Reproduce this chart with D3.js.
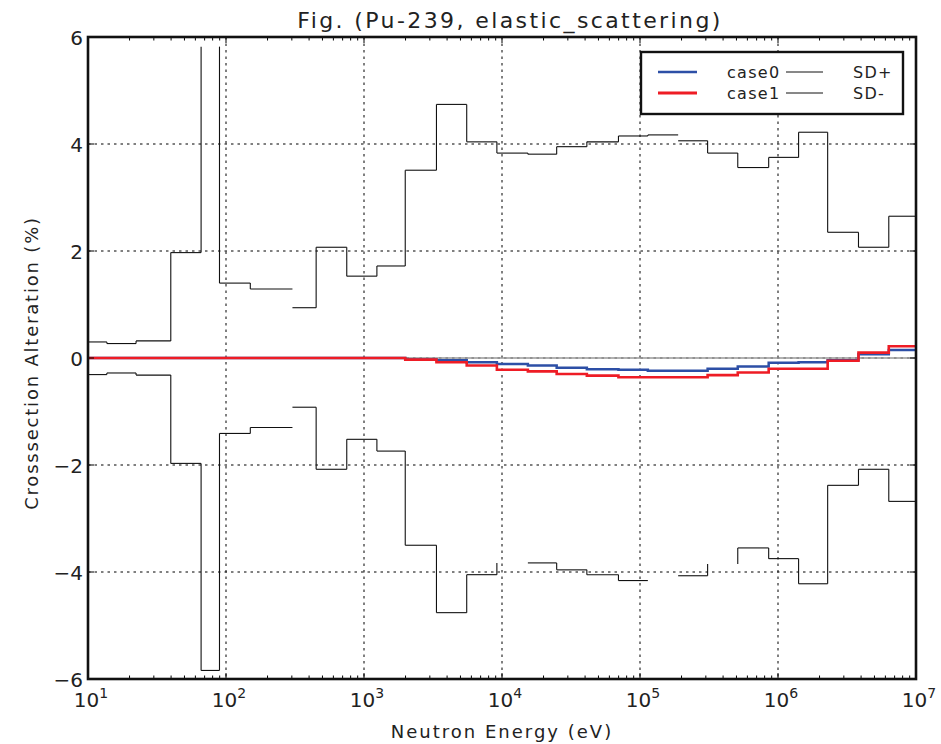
<!DOCTYPE html>
<html>
    <head>
        <meta charset="utf-8">
        <title>Pu-239 elastic scattering</title>
        <script type="text/javascript" src="https://cdn.jsdelivr.net/npm/d3@7"></script>
        <style type="text/css">
            body {
                margin: 0;
                background: #fff;
            }
            text {
                font-family: "DejaVu Sans", sans-serif;
                fill: #222;
            }
        </style>
    </head>
    <body>
        <script type="text/javascript">
            // Group boundaries (eV), 28 groups
            var edges = [10, 13.7, 22.3, 39.8, 66, 89.7, 150, 303, 450, 750, 1240, 1990,
                         3350, 5550, 9180, 15400, 24900, 41200, 69800, 114000, 189000,
                         309000, 511000, 856000, 1.41e6, 2.29e6, 3.83e6, 6.35e6, 1e7];

            // Crosssection alteration (%) per group
            var case0 = [0, 0, 0, 0, 0, 0, 0, 0, 0, 0, 0,
                         -0.03, -0.04, -0.08, -0.11, -0.14, -0.18, -0.21, -0.22, -0.24,
                         -0.24, -0.20, -0.16, -0.09, -0.08, -0.04, 0.07, 0.15];
            var case1 = [0, 0, 0, 0, 0, 0, 0, 0, 0, 0, 0,
                         -0.03, -0.08, -0.14, -0.22, -0.25, -0.30, -0.33, -0.36, -0.36,
                         -0.36, -0.32, -0.27, -0.20, -0.20, -0.05, 0.10, 0.22];
            var sdPlus = [0.30, 0.27, 0.32, 1.97, 5.82, 1.40, 1.29, 0.94, 2.07, 1.53, 1.72,
                          3.51, 4.74, 4.04, 3.83, 3.81, 3.95, 4.04, 4.15, 4.17, 4.06,
                          3.83, 3.56, 3.75, 4.22, 2.35, 2.07, 2.65];
            var sdMinus = [-0.31, -0.28, -0.32, -1.97, -5.84, -1.41, -1.30, -0.92, -2.08, -1.52, -1.74,
                           -3.50, -4.76, -4.05, -3.83, -3.83, -3.96, -4.05, -4.16, -4.12, -4.07,
                           -3.85, -3.55, -3.75, -4.22, -2.38, -2.08, -2.68];

            // pieces of the SD lines that are missing in the figure
            var sdPlusNoFlat = [4];
            var sdPlusNoRise = [7, 20];
            var sdMinusNoFlat = [14, 19, 21];
            var sdMinusNoRise = [7, 15, 19, 20];

            var xDecades = [1e1, 1e2, 1e3, 1e4, 1e5, 1e6, 1e7];
            var yTicks = [-6, -4, -2, 0, 2, 4, 6];

            var w = 941;
            var h = 744;
            var padL = 88, padR = 916, padT = 37, padB = 679;

            var xScale = d3.scaleLog()
                            .domain([10, 1e7])
                            .range([padL, padR]);

            var yScale = d3.scaleLinear()
                            .domain([-6, 6])
                            .range([padB, padT]);

            var svg = d3.select("body")
                        .append("svg")
                        .attr("width", w)
                        .attr("height", h);

            // grid
            svg.append("g").selectAll("line")
                .data(xDecades.slice(1, -1))
                .enter().append("line")
                .attr("x1", function(d){ return xScale(d); })
                .attr("x2", function(d){ return xScale(d); })
                .attr("y1", padT).attr("y2", padB)
                .attr("stroke", "#000").attr("stroke-width", 1)
                .attr("stroke-dasharray", "2.5,4");

            svg.append("g").selectAll("line")
                .data(yTicks.slice(1, -1))
                .enter().append("line")
                .attr("x1", padL).attr("x2", padR)
                .attr("y1", function(d){ return yScale(d); })
                .attr("y2", function(d){ return yScale(d); })
                .attr("stroke", "#000").attr("stroke-width", 1)
                .attr("stroke-dasharray", "2.5,4");

            // zero line
            svg.append("line")
                .attr("x1", padL).attr("x2", padR)
                .attr("y1", yScale(0)).attr("y2", yScale(0))
                .attr("stroke", "#999").attr("stroke-width", 1.5);

            // SD step lines, drawn as separate pieces
            function stepPieces(vals, noFlat, noRise) {
                var pieces = [];
                vals.forEach(function(v, i){
                    if (noFlat.indexOf(i) < 0) {
                        pieces.push([edges[i], v, edges[i+1], v]);
                    }
                    if (i > 0 && noRise.indexOf(i) < 0) {
                        pieces.push([edges[i], vals[i-1], edges[i], v]);
                    }
                });
                return pieces;
            }

            [stepPieces(sdPlus, sdPlusNoFlat, sdPlusNoRise),
             stepPieces(sdMinus, sdMinusNoFlat, sdMinusNoRise)].forEach(function(pieces){
                svg.append("g").selectAll("line")
                    .data(pieces)
                    .enter().append("line")
                    .attr("x1", function(d){ return xScale(d[0]); })
                    .attr("y1", function(d){ return yScale(d[1]); })
                    .attr("x2", function(d){ return xScale(d[2]); })
                    .attr("y2", function(d){ return yScale(d[3]); })
                    .attr("stroke", "#111").attr("stroke-width", 1.1);
            });

            // case lines
            var stepLine = d3.line()
                .x(function(d){ return xScale(d[0]); })
                .y(function(d){ return yScale(d[1]); })
                .curve(d3.curveStepAfter);

            function stepPoints(vals) {
                var pts = vals.map(function(v, i){ return [edges[i], v]; });
                pts.push([edges[edges.length - 1], vals[vals.length - 1]]);
                return pts;
            }

            svg.append("path")
                .attr("d", stepLine(stepPoints(case0)))
                .attr("fill", "none").attr("stroke", "#2d4fa6").attr("stroke-width", 2.5);
            svg.append("path")
                .attr("d", stepLine(stepPoints(case1)))
                .attr("fill", "none").attr("stroke", "#ee1c25").attr("stroke-width", 2.6);

            // ticks (inside)
            var minor = [];
            xDecades.slice(0, -1).forEach(function(d){
                for (var k = 2; k < 10; k++) minor.push(d * k);
            });
            var tickG = svg.append("g").attr("stroke", "#000");
            [padB, padT].forEach(function(yy){
                var dir = yy === padB ? -1 : 1;
                tickG.selectAll(null).data(xDecades).enter().append("line")
                    .attr("x1", function(d){ return xScale(d); })
                    .attr("x2", function(d){ return xScale(d); })
                    .attr("y1", yy).attr("y2", yy + dir * 6)
                    .attr("stroke-width", 1);
                tickG.selectAll(null).data(minor).enter().append("line")
                    .attr("x1", function(d){ return xScale(d); })
                    .attr("x2", function(d){ return xScale(d); })
                    .attr("y1", yy).attr("y2", yy + dir * 3.5)
                    .attr("stroke-width", 1);
            });
            [padL, padR].forEach(function(xx){
                var dir = xx === padL ? 1 : -1;
                tickG.selectAll(null).data(yTicks).enter().append("line")
                    .attr("x1", xx).attr("x2", xx + dir * 6)
                    .attr("y1", function(d){ return yScale(d); })
                    .attr("y2", function(d){ return yScale(d); })
                    .attr("stroke-width", 1);
            });

            // frame
            svg.append("rect")
                .attr("x", padL).attr("y", padT)
                .attr("width", padR - padL).attr("height", padB - padT)
                .attr("fill", "none").attr("stroke", "#111").attr("stroke-width", 2.6);

            // y tick labels
            svg.append("g").selectAll("text")
                .data(yTicks)
                .enter().append("text")
                .attr("x", padL - 5)
                .attr("y", function(d){ return yScale(d) + 8; })
                .attr("text-anchor", "end")
                .style("font-size", "20px")
                .text(function(d){ return d < 0 ? "\u2212" + Math.abs(d) : String(d); });

            // x tick labels 10^n
            var xl = svg.append("g").selectAll("text")
                .data(xDecades)
                .enter().append("text")
                .attr("x", function(d){ return xScale(d) + 3; })
                .attr("y", 707)
                .attr("text-anchor", "middle")
                .style("font-size", "20px");
            xl.append("tspan").text("10");
            xl.append("tspan")
                .attr("dy", -9)
                .style("font-size", "14px")
                .text(function(d){ return Math.round(Math.log10(d)); });

            // title and axis labels
            svg.append("text")
                .attr("x", 510)
                .attr("y", 28)
                .attr("text-anchor", "middle")
                .style("font-size", "22px")
                .style("letter-spacing", "2.4px")
                .text("Fig. (Pu-239, elastic_scattering)");

            svg.append("text")
                .attr("x", (padL + padR) / 2)
                .attr("y", 738)
                .attr("text-anchor", "middle")
                .style("font-size", "18px")
                .style("letter-spacing", "2px")
                .text("Neutron Energy (eV)");

            svg.append("text")
                .attr("transform", "translate(38,363) rotate(-90)")
                .attr("text-anchor", "middle")
                .style("font-size", "18px")
                .style("letter-spacing", "1.8px")
                .text("Crosssection Alteration (%)");

            // legend
            var legendRows = [
                {name: "case0", color: "#2d4fa6", sd: "SD+", lw: 2.4},
                {name: "case1", color: "#ee1c25", sd: "SD-", lw: 3.2}
            ];
            var lg = svg.append("g");
            lg.append("rect")
                .attr("x", 641).attr("y", 52)
                .attr("width", 262).attr("height", 62)
                .attr("fill", "#fff").attr("stroke", "#111").attr("stroke-width", 2.4);
            var row = lg.selectAll("g.row")
                .data(legendRows)
                .enter().append("g")
                .attr("transform", function(d, i){ return "translate(0," + (72 + i * 21) + ")"; });
            row.append("line")
                .attr("x1", 658).attr("x2", 697)
                .attr("stroke", function(d){ return d.color; })
                .attr("stroke-width", function(d){ return d.lw; });
            row.append("text")
                .attr("x", 727).attr("y", 6)
                .style("font-size", "16px")
                .style("letter-spacing", "1.3px")
                .text(function(d){ return d.name; });
            row.append("line")
                .attr("x1", 786).attr("x2", 823)
                .attr("stroke", "#111").attr("stroke-width", 1);
            row.append("text")
                .attr("x", 853).attr("y", 6)
                .style("font-size", "16px")
                .style("letter-spacing", "1.3px")
                .text(function(d){ return d.sd; });
        </script>
    </body>
</html>
